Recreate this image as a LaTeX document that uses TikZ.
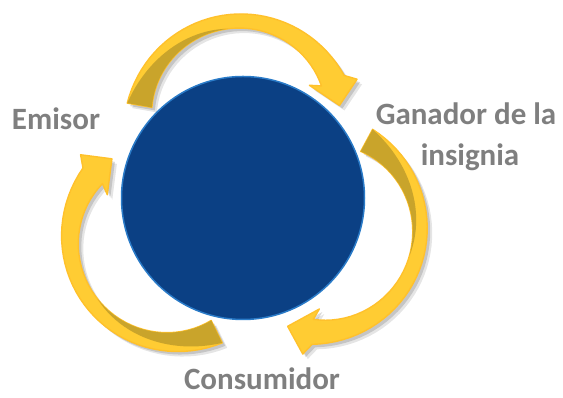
\documentclass[tikz,border=0pt]{standalone}
\usepackage{fontspec}
\setmainfont{Carlito}
\usetikzlibrary{positioning}

\definecolor{ringgold}{HTML}{FFCC33}
\definecolor{ringdark}{HTML}{C9A42B}
\definecolor{coreblue}{HTML}{0B4084}
\definecolor{coreedge}{HTML}{2A7BC8}
\definecolor{labelgray}{HTML}{7F7F7F}

\tikzset{
  declare function={bandw(\t)=14+11*(2*\t-1)^2;},
  label text/.style={text=labelgray, font=\fontsize{31}{37}\selectfont\bfseries, inner sep=0pt, anchor=base},
  arrow face/.style={fill=ringgold, draw=ringgold!85!orange, line width=1.4pt, line join=round,
    preaction={fill=black, fill opacity=0.10, draw=none, transform canvas={xshift=5pt, yshift=-5pt}},
    preaction={fill=black, fill opacity=0.14, draw=none, transform canvas={xshift=3pt, yshift=-3pt}}},
  arrow back/.style={fill=ringdark},
}

\begin{document}
\begin{tikzpicture}[x=1pt, y=1pt]
	\useasboundingbox (0,0) rectangle (563,398);
	
	% Middle radius of each curved arrow
	\def\R{102}
	
	% Draw the central disc
	\node[circle, fill=coreblue, draw=coreedge, line width=1.5pt, minimum size=243pt, inner sep=0pt] (core) at (243,200) {};
	
	% Draw the three curved arrows: centre, tail angle, head angle
	\foreach \cx/\cy/\ta/\tb in {240/275/170/24.5, 318/168/61.5/-93, 172/158/296/141} {
		\begin{scope}[shift={(\cx,\cy)}]
			% band and head
			\path[arrow face]
			plot[domain=0:1, samples=40] ({\ta+(\tb-\ta)*\x}:{\R+bandw(\x)/2})
			-- ({\tb-4}:{\R+23}) -- ({\tb-14.5}:{\R-1}) -- ({\tb+4}:{\R-23})
			-- plot[domain=1:0, samples=40] ({\ta+(\tb-\ta)*\x}:{\R-bandw(\x)/2})
			-- cycle;
			% back side seen near the tail
			\fill[arrow back]
			plot[domain=0:0.5, samples=25] ({\ta+(\tb-\ta)*\x}:{\R-bandw(\x)/2})
			-- plot[domain=0.5:0, samples=25] ({\ta+(\tb-\ta)*\x}:{\R-bandw(\x)/2+bandw(\x)*(1-2*\x)})
			-- cycle;
		\end{scope}
	}
	
	% Add the labels
	\node[label text] (emisor) at (56,268) {Emisor};
	\node[label text] (ganador) at (466,273) {Ganador de la};
	\node[label text] (insignia) at ([xshift=4pt, yshift=-41pt]ganador.base) {insignia};
	\node[label text] (consumidor) at (262,8) {Consumidor};
	
\end{tikzpicture}
\end{document}
